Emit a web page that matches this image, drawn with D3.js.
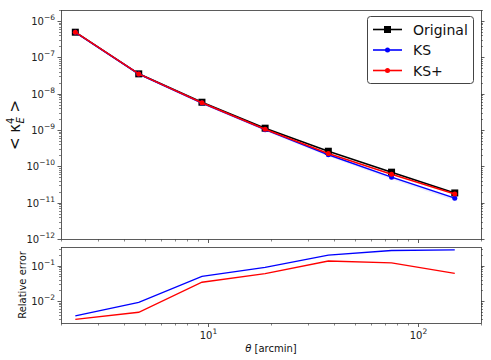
<!DOCTYPE html>
<html><head><meta charset="utf-8">
<script src="https://cdn.jsdelivr.net/npm/d3@7"></script>
<style>body{margin:0;background:#fff}svg{display:block;font-family:"DejaVu Sans",sans-serif}</style>
</head><body><svg id="c" width="491" height="360"></svg>
<script>
const theta = [2.34, 4.69, 9.38, 18.75, 37.5, 75, 150];
const original = [4.9e-7, 3.5e-8, 5.8e-9, 1.12e-9, 2.6e-10, 6.9e-11, 1.85e-11];
const ks = [4.88e-7, 3.47e-8, 5.51e-9, 1.02e-9, 2.08e-10, 5.04e-11, 1.33e-11];
const ksPlus = [4.89e-7, 3.48e-8, 5.6e-9, 1.05e-9, 2.25e-10, 6.07e-11, 1.74e-11];
const ksBandLow = [4.7e-7, 3.3e-8, 5.1e-9, 0.93e-9, 1.85e-10, 4.4e-11, 1.12e-11];
const relErrKS = [3.8e-3, 9.1e-3, 0.05, 0.09, 0.2, 0.27, 0.28];
const relErrKSPlus = [3.0e-3, 4.8e-3, 0.034, 0.06, 0.136, 0.12, 0.061];
const seriesNames = ["Original", "KS", "KS+"];
const seriesColors = ["#000000", "#0000ff", "#ff0000"];

const svg = d3.select("#c");
const L = 61, R = 481, T1 = 10, B1 = 239, T2 = 247, B2 = 323;
const x = d3.scaleLog().domain([2, 200]).range([L, R]);
const y1 = d3.scaleLog().domain([1e-12, 2e-6]).range([B1, T1]);
const y2 = d3.scaleLog().domain([2.38e-3, 0.339]).range([B2, T2]);

const sup = {"-":"\u2212"};
function logLabel(sel, v) {
  const e = Math.round(Math.log10(v));
  sel.text(null);
  sel.append("tspan").text("10");
  sel.append("tspan").attr("dy", -5).attr("font-size", 7.5).text(String(e).replace("-", "\u2212"));
}
function minorTicks(domain) {
  const out = [];
  const lo = Math.floor(Math.log10(domain[0])), hi = Math.ceil(Math.log10(domain[1]));
  for (let e = lo; e <= hi; e++) for (let m = 1; m <= 9; m++) {
    const v = m * Math.pow(10, e);
    if (v >= domain[0] * 0.9999 && v <= domain[1] * 1.0001) out.push({v, major: m === 1});
  }
  return out;
}

function drawYAxis(scale, top, bot, labels) {
  const g = svg.append("g");
  minorTicks(scale.domain()).forEach(t => {
    const yy = Math.round(scale(t.v)) + 0.5;
    const len = t.major ? 3.5 : 2;
    g.append("line").attr("x1", L - len).attr("x2", L).attr("y1", yy).attr("y2", yy).attr("stroke", "#333").attr("stroke-width", t.major ? 0.8 : 0.6);
    g.append("line").attr("x1", R).attr("x2", R + len).attr("y1", yy).attr("y2", yy).attr("stroke", "#333").attr("stroke-width", t.major ? 0.8 : 0.6);
    if (t.major && labels) {
      g.append("text").attr("x", L - 6).attr("y", yy + 3.5).attr("text-anchor", "end").attr("font-size", 10).attr("fill", "#222").call(s => logLabel(s, t.v));
    }
  });
}
function drawXTicks(yb, labels) {
  const g = svg.append("g");
  minorTicks(x.domain()).forEach(t => {
    const xx = Math.round(x(t.v)) + 0.5;
    const len = t.major ? 3.5 : 2;
    g.append("line").attr("x1", xx).attr("x2", xx).attr("y1", yb).attr("y2", yb + len).attr("stroke", "#333").attr("stroke-width", t.major ? 0.8 : 0.6);
    if (t.major && labels) {
      g.append("text").attr("x", xx).attr("y", yb + 15).attr("text-anchor", "middle").attr("font-size", 10).attr("fill", "#222").call(s => logLabel(s, t.v));
    }
  });
}

// top panel
const data = theta.map((t, i) => ({t, o: original[i], k: ks[i], kp: ksPlus[i], lo: ksBandLow[i]}));
svg.append("path").datum(data).attr("fill", "#0000ff").attr("fill-opacity", 0.08)
  .attr("d", d3.area().x(d => x(d.t)).y0(d => y1(d.lo)).y1(d => y1(d.k)));
const line1 = key => d3.line().x(d => x(d.t)).y(d => y1(d[key]));
svg.append("path").datum(data).attr("fill", "none").attr("stroke", seriesColors[0]).attr("stroke-width", 1.6).attr("d", line1("o"));
svg.selectAll(".sq").data(data).join("rect").attr("x", d => x(d.t) - 3.5).attr("y", d => y1(d.o) - 3.5).attr("width", 7).attr("height", 7).attr("fill", "#000");
svg.append("path").datum(data).attr("fill", "none").attr("stroke", seriesColors[1]).attr("stroke-width", 1.5).attr("d", line1("k"));
svg.selectAll(".cb").data(data).join("circle").attr("cx", d => x(d.t)).attr("cy", d => y1(d.k)).attr("r", 2.5).attr("fill", seriesColors[1]);
svg.append("path").datum(data).attr("fill", "none").attr("stroke", seriesColors[2]).attr("stroke-width", 1.5).attr("d", line1("kp"));
svg.selectAll(".cr").data(data).join("circle").attr("cx", d => x(d.t)).attr("cy", d => y1(d.kp)).attr("r", 2.5).attr("fill", seriesColors[2]);

svg.append("rect").attr("x", L + 0.5).attr("y", T1 + 0.5).attr("width", R - L).attr("height", B1 - T1).attr("fill", "none").attr("stroke", "#333").attr("stroke-width", 0.8);
drawYAxis(y1, T1, B1, true);
drawXTicks(B1 + 0.5, false);

// legend
const lg = svg.append("g");
lg.append("rect").attr("x", 367.5).attr("y", 16.5).attr("width", 106).attr("height", 67).attr("rx", 3).attr("fill", "#fff").attr("fill-opacity", 0.8).attr("stroke", "#444").attr("stroke-width", 1);
seriesNames.forEach((n, i) => {
  const yy = 29.5 + i * 20.5;
  lg.append("line").attr("x1", 373).attr("x2", 402).attr("y1", yy).attr("y2", yy).attr("stroke", seriesColors[i]).attr("stroke-width", 1.6);
  if (i === 0) lg.append("rect").attr("x", 384).attr("y", yy - 3.5).attr("width", 7).attr("height", 7).attr("fill", "#000");
  else lg.append("circle").attr("cx", 387.5).attr("cy", yy).attr("r", 2.5).attr("fill", seriesColors[i]);
  lg.append("text").attr("x", 413).attr("y", yy + 5).attr("font-size", 14).attr("fill", "#111").text(n);
});

// y label top
svg.append("text").attr("transform", "translate(20,125) rotate(-90)").attr("text-anchor", "middle").attr("font-size", 15).attr("fill", "#111")
  .call(s => {
    s.append("tspan").text("< \u03BA");
    s.append("tspan").attr("font-size", 10).attr("dy", -6).text("4");
    s.append("tspan").attr("font-size", 10).attr("dy", 10).attr("dx", -6).attr("font-style", "italic").text("E");
    s.append("tspan").attr("dy", -4).text(" >");
  });

// bottom panel
const errData = theta.map((t, i) => ({t, a: relErrKS[i], b: relErrKSPlus[i]}));
svg.append("path").datum(errData).attr("fill", "none").attr("stroke", seriesColors[1]).attr("stroke-width", 1.3).attr("d", d3.line().x(d => x(d.t)).y(d => y2(d.a)));
svg.append("path").datum(errData).attr("fill", "none").attr("stroke", seriesColors[2]).attr("stroke-width", 1.3).attr("d", d3.line().x(d => x(d.t)).y(d => y2(d.b)));
svg.append("rect").attr("x", L + 0.5).attr("y", T2 + 0.5).attr("width", R - L).attr("height", B2 - T2).attr("fill", "none").attr("stroke", "#333").attr("stroke-width", 0.8);
drawYAxis(y2, T2, B2, true);
drawXTicks(B2 + 0.5, true);

svg.append("text").attr("transform", "translate(26,285) rotate(-90)").attr("text-anchor", "middle").attr("font-size", 10).attr("fill", "#111").text("Relative error");
svg.append("text").attr("x", 271).attr("y", 352).attr("text-anchor", "middle").attr("font-size", 10).attr("fill", "#111")
  .call(s => { s.append("tspan").attr("font-style", "italic").text("\u03B8"); s.append("tspan").text(" [arcmin]"); });
</script></body></html>
